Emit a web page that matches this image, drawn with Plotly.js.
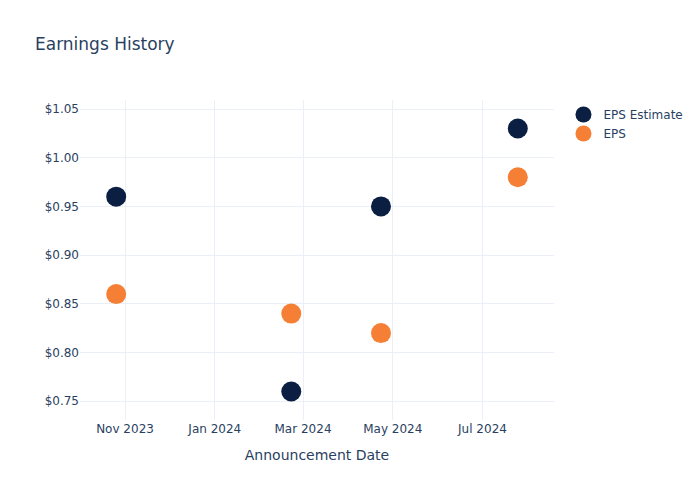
<!DOCTYPE html>
<html>
<head>
<meta charset="utf-8">
<script src="https://cdn.plot.ly/plotly-3.0.1.min.js"></script>
<style>html,body{margin:0;padding:0;background:#fff;}</style>
</head>
<body>
<div id="chart" style="width:700px;height:500px;"></div>
<script>
const dates = ["2023-10-26", "2024-02-22", "2024-04-23", "2024-07-25"];
const epsEstimate = [0.96, 0.76, 0.95, 1.03];
const eps = [0.86, 0.84, 0.82, 0.98];

const traces = [
  {
    x: dates, y: epsEstimate, name: "EPS Estimate", mode: "markers", type: "scatter",
    marker: {color: "#0b1f42", size: 20}
  },
  {
    x: dates, y: eps, name: "EPS", mode: "markers", type: "scatter",
    marker: {color: "#f58035", size: 20}
  }
];

const layout = {
  template: "plotly_white",
  width: 700, height: 500,
  title: {text: "Earnings History", x: 0.05, xanchor: "left"},
  paper_bgcolor: "#fff", plot_bgcolor: "#fff",
  xaxis: {
    title: {text: "Announcement Date", standoff: 15},
    type: "date",
    gridcolor: "#ebf0f8", zeroline: false,
    dtick: "M2", tickformat: "%b %Y"
  },
  yaxis: {
    tickprefix: "$", tickformat: ".2f",
    gridcolor: "#ebf0f8", zeroline: false
  },
  font: {family: "DejaVu Sans", color: "#2a3f5f"}
};

Plotly.newPlot("chart", traces, layout, {displayModeBar: false});
</script>
</body>
</html>
